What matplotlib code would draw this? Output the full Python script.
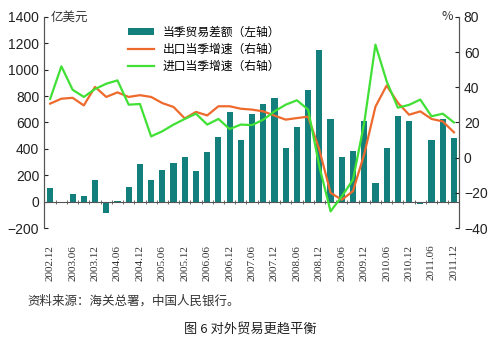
import matplotlib
matplotlib.use('Agg')
import matplotlib.pyplot as plt
import numpy as np

plt.rcParams['font.family'] = ['Noto Sans CJK SC', 'DejaVu Sans']

# quarterly data, 2002.12 - 2011.12
quarters = ['2002.12', '2003.03', '2003.06', '2003.09', '2003.12', '2004.03', '2004.06', '2004.09',
            '2004.12', '2005.03', '2005.06', '2005.09', '2005.12', '2006.03', '2006.06', '2006.09',
            '2006.12', '2007.03', '2007.06', '2007.09', '2007.12', '2008.03', '2008.06', '2008.09',
            '2008.12', '2009.03', '2009.06', '2009.09', '2009.12', '2010.03', '2010.06', '2010.09',
            '2010.12', '2011.03', '2011.06', '2011.09', '2011.12']
balance = [106, -3, 58, 45, 162, -85, 8, 114, 288, 167, 237, 295, 340, 235, 380, 487,
           682, 470, 667, 742, 788, 409, 568, 845, 1152, 629, 341, 386, 614, 144, 409, 650,
           614, -18, 470, 629, 485]
export_growth = [30.7, 33.5, 34, 29.7, 40.2, 34.5, 37.1, 34.5, 35.5, 34.5, 31, 28.8, 22.3, 26, 24, 29.2,
                 29.2, 27.8, 27.3, 26.3, 23.9, 21.6, 22.5, 23.3, 4.5, -20, -23.9, -19, 2, 29, 41, 31.2,
                 24.4, 26.3, 22, 20.6, 14.4]
import_growth = [33.4, 51.9, 38.6, 34.5, 39, 42, 43.9, 30.1, 30.5, 12.1, 15, 18.8, 22, 25, 18.8, 22,
                 16.3, 18.8, 18.5, 21.6, 26.3, 30.1, 32.6, 27.3, -5, -30.5, -22, -12.5, 19.7, 64.2, 43.4, 28.4,
                 30, 33, 23.5, 25, 20]

x = np.arange(len(quarters))

fig = plt.figure(figsize=(5, 3.44), dpi=100)
ax = fig.add_axes([0.088, 0.337, 0.83, 0.614])
ax2 = ax.twinx()

bars = ax.bar(x, balance, width=0.55, color='#13807d', label='当季贸易差额（左轴）')
l1, = ax2.plot(x, export_growth, color='#ee6a2c', lw=1.6, label='出口当季增速（右轴）')
l2, = ax2.plot(x, import_growth, color='#40e035', lw=1.6, label='进口当季增速（右轴）')

ax.set_xlim(-0.55, 36.45)
ax.set_ylim(-200, 1400)
ax2.set_ylim(-40, 80)
ax.set_yticks(range(-200, 1401, 200))
ax2.set_yticks(range(-40, 81, 20))

for a in (ax, ax2):
    a.spines['top'].set_visible(False)
for s in ('left', 'right'):
    ax.spines[s].set_color('#555555')
    ax2.spines[s].set_color('#555555')
ax2.spines['bottom'].set_visible(False)
ax.spines['bottom'].set_position(('data', 0))
ax.spines['bottom'].set_color('#555555')

ax.tick_params(axis='y', direction='in', length=3, labelsize=10, colors='#222222')
ax2.tick_params(axis='y', direction='in', length=3, labelsize=10, colors='#222222')
for lab in ax.get_yticklabels() + ax2.get_yticklabels():
    lab.set_family('Liberation Sans')

ax.set_xticks(x[::2])
ax.set_xticklabels(quarters[::2], rotation=90, fontsize=8, family='Liberation Serif', color='#333333')
ax.set_xticks(x[:-1] + 0.5, minor=True)
ax.tick_params(axis='x', which='major', length=0, pad=31)
ax.tick_params(axis='x', which='minor', direction='inout', length=3, color='#555555')

ax.text(0.015, 1.0, '亿美元', transform=ax.transAxes, fontsize=9, va='center', ha='left', color='#333333')
ax2.text(0.985, 1.0, '%', transform=ax2.transAxes, fontsize=9, va='center', ha='right', color='#333333')

ax2.legend(handles=[bars, l1, l2], loc='upper left', bbox_to_anchor=(0.19, 0.98), frameon=False,
           fontsize=8.5, handlelength=2.2, handleheight=0.6, labelspacing=0.35, borderaxespad=0)

fig.text(0.055, 0.113, '资料来源：海关总署，中国人民银行。', fontsize=9, color='#333333')
fig.text(0.5, 0.03, '图 6 对外贸易更趋平衡', fontsize=9.5, ha='center', color='#222222')

fig.savefig('out.png', dpi=100)
